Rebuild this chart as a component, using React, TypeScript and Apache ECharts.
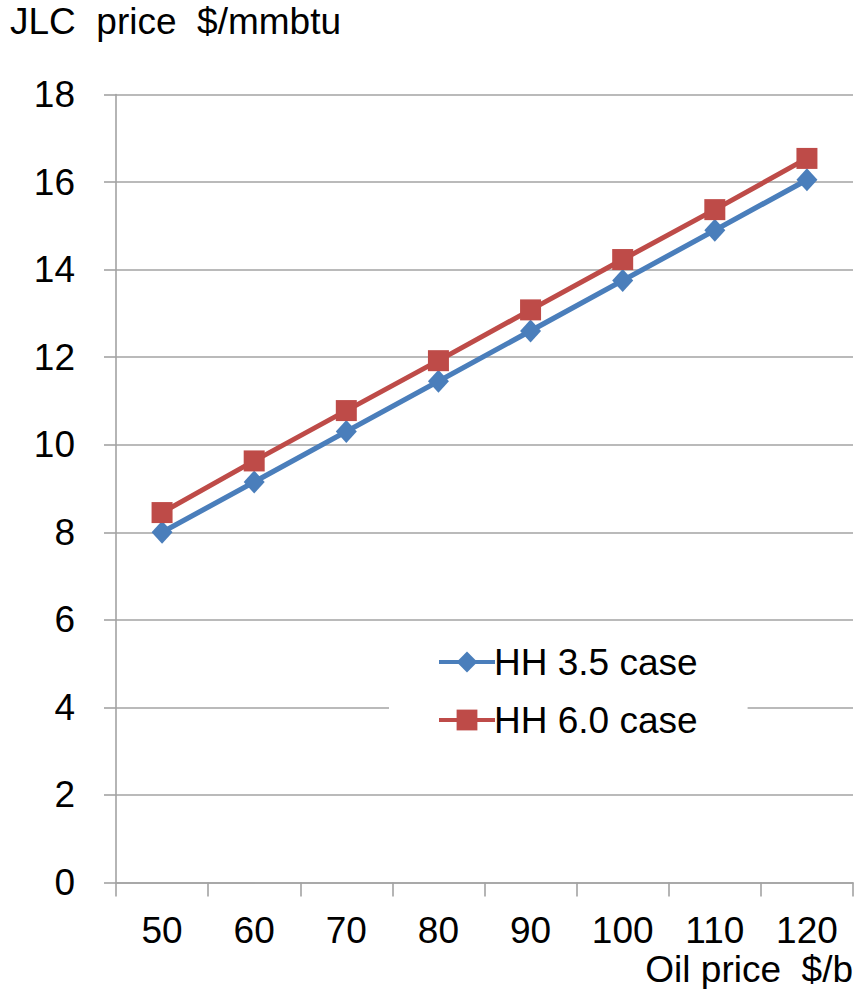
import React, { useEffect, useRef } from "react";
import * as echarts from "echarts";

const categories = ["50", "60", "70", "80", "90", "100", "110", "120"];
const hh35 = [8.0, 9.15, 10.3, 11.45, 12.6, 13.75, 14.9, 16.05];
const hh60 = [8.45, 9.63, 10.78, 11.92, 13.08, 14.23, 15.37, 16.54];
const seriesNames = ["HH 3.5 case", "HH 6.0 case"];
const yTicks = { min: 0, max: 18, interval: 2 };
const titleText = "JLC  price  $/mmbtu";
const xNameText = "Oil price  $/b";

const FONT = "'Liberation Sans', Arial, sans-serif";
const GRID_GRAY = "#a3a3a3";
const FS = 37;

export default function App() {
  const ref = useRef<HTMLDivElement>(null);
  useEffect(() => {
    if (!ref.current) return;
    const chart = echarts.init(ref.current, undefined, { renderer: "svg" });
    chart.setOption({
      animation: false,
      backgroundColor: "#ffffff",
      textStyle: { fontFamily: FONT },
      grid: { left: 116, right: 5, top: 94.5, bottom: 106.5, containLabel: false },
      graphic: [
        {
          type: "text",
          left: 10,
          top: 3,
          style: { text: titleText, fontSize: FS, fontFamily: FONT, fill: "#000" },
        },
        {
          type: "text",
          right: 5,
          top: 951,
          style: { text: xNameText, fontSize: FS, fontFamily: FONT, fill: "#000" },
        },
      ],
      legend: {
        orient: "vertical",
        left: 389,
        top: 628,
        padding: [14, 50, 14, 48],
        backgroundColor: "#ffffff",
        itemWidth: 56,
        itemHeight: 26,
        itemGap: 18,
        lineStyle: { width: 4 },
        textStyle: { fontSize: FS, fontFamily: FONT, color: "#000", lineHeight: 40, padding: [0, 0, 0, -6] },
        data: seriesNames,
      },
      xAxis: {
        type: "category",
        data: categories,
        boundaryGap: true,
        axisLine: { lineStyle: { color: GRID_GRAY, width: 1.6 } },
        axisTick: { show: true, length: 14, alignWithLabel: false, lineStyle: { color: GRID_GRAY, width: 1.6 } },
        axisLabel: { fontSize: FS, color: "#000", fontFamily: FONT, margin: 29 },
        splitLine: { show: false },
      },
      yAxis: {
        type: "value",
        min: yTicks.min,
        max: yTicks.max,
        interval: yTicks.interval,
        axisLine: { show: true, lineStyle: { color: GRID_GRAY, width: 1.6 } },
        axisTick: { show: true, length: 12, lineStyle: { color: GRID_GRAY, width: 1.6 } },
        axisLabel: { fontSize: FS, color: "#000", fontFamily: FONT, margin: 41 },
        splitLine: { show: true, lineStyle: { color: GRID_GRAY, width: 1.6 } },
      },
      series: [
        {
          name: seriesNames[0],
          type: "line",
          data: hh35,
          symbol: "diamond",
          symbolSize: [21, 23],
          lineStyle: { color: "#4a7ebb", width: 5.2 },
          itemStyle: { color: "#4a7ebb" },
        },
        {
          name: seriesNames[1],
          type: "line",
          data: hh60,
          symbol: "rect",
          symbolSize: 21,
          lineStyle: { color: "#be4b48", width: 5 },
          itemStyle: { color: "#be4b48" },
        },
      ],
    });
    return () => chart.dispose();
  }, []);
  return (
    <div
      ref={ref}
      style={{ position: "fixed", left: 0, top: 0, width: 858, height: 989, background: "#fff" }}
    />
  );
}
